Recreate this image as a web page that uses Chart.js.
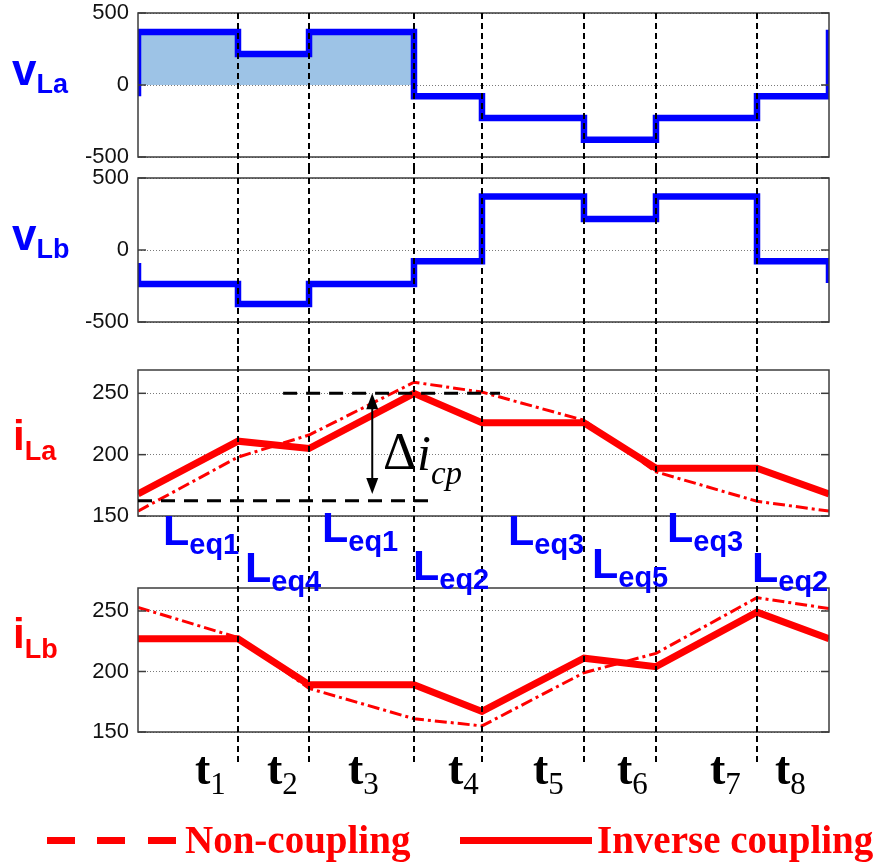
<!DOCTYPE html>
<html>
<head>
<meta charset="utf-8">
<script src="https://cdn.jsdelivr.net/npm/chart.js@4.4.0/dist/chart.umd.min.js"></script>
<style>
html, body { margin: 0; padding: 0; background: #fff; }
#wrap { position: relative; width: 884px; height: 867px; overflow: hidden; }
#wrap canvas { position: absolute; left: 0; }
.lbl { position: absolute; white-space: nowrap; line-height: 1; }
.leg { position: absolute; background: #ff0000; }
</style>
</head>
<body>
<div id="wrap"></div>
<script>
// switching instants over one period (percent of period)
const tEdges = [0, 14.47, 24.75, 39.94, 49.78, 64.54, 74.96, 89.58, 100];
const tNames = ['1', '2', '3', '4', '5', '6', '7', '8'];
const leqNames = ['eq1', 'eq4', 'eq1', 'eq2', 'eq3', 'eq5', 'eq3', 'eq2'];

// inductor voltages: level held in each interval, plus value before t=0 / at the end
const vLaLevels = [368, 215, 368, -78, -229, -380, -229, -78];
const vLbLevels = [-236, -375, -236, -78, 372, 215, 372, -78];
const vLaEnds = [-78, 383];
const vLbEnds = [-90, -229];

// inductor currents at the switching instants
const iLaInverse = [168, 211, 205, 250, 226, 226, 189, 189, 168];
const iLaNon     = [154, 198, 216, 259, 251, 228, 186, 162, 154];
const iLbInverse = [227, 227, 189, 189, 167, 211, 204, 249, 227];
const iLbNon     = [253, 228, 186, 161, 155, 199, 215, 261, 252];

const vTicks = [-500, 0, 500];
const iTicks = [150, 200, 250];

// delta i_cp marker on the iLa panel
const dIcpTop = 250, dIcpBottom = 162.5, dIcpArrowBottom = 168;
const dIcpTopSpan = [21, 52.4], dIcpBottomSpan = [0, 42.5], dIcpArrowX = 33.9;

const BLUE = '#0000ff', RED = '#ff0000';
const SANS = '"Liberation Sans", Arial, sans-serif';
const SERIF = '"Liberation Serif", "Times New Roman", serif';
const wrap = document.getElementById('wrap');

function stepPoints(levels, ends) {
    var pts = [{x: tEdges[0], y: ends[0]}];
    levels.forEach(function (v, i) {
        pts.push({x: tEdges[i], y: v});
        pts.push({x: tEdges[i + 1], y: v});
    });
    pts.push({x: tEdges[tEdges.length - 1], y: ends[1]});
    return pts;
}
function edgePoints(vals) {
    return vals.map(function (v, i) { return {x: tEdges[i], y: v}; });
}

function seg(ctx, x1, y1, x2, y2) {
    ctx.beginPath(); ctx.moveTo(x1, y1); ctx.lineTo(x2, y2); ctx.stroke();
}

const panelDeco = {
    id: 'panelDeco',
    afterDatasetsDraw(chart, args, opts) {
        const ctx = chart.ctx, a = chart.chartArea, x = chart.scales.x, y = chart.scales.y;
        ctx.save();
        // box + inward ticks
        ctx.strokeStyle = '#3c3c3c'; ctx.lineWidth = 1.5; ctx.setLineDash([]);
        ctx.strokeRect(a.left, a.top, a.right - a.left, a.bottom - a.top);
        opts.ticks.forEach(function (v) {
            const py = y.getPixelForValue(v);
            seg(ctx, a.left, py, a.left + 8, py);
            seg(ctx, a.right - 8, py, a.right, py);
        });
        // delta i marker
        if (opts.marker) {
            ctx.strokeStyle = '#000'; ctx.lineWidth = 3; ctx.setLineDash([14, 9]);
            const yt = y.getPixelForValue(dIcpTop), yb = y.getPixelForValue(dIcpBottom);
            seg(ctx, x.getPixelForValue(dIcpTopSpan[0]), yt, x.getPixelForValue(dIcpTopSpan[1]), yt);
            seg(ctx, x.getPixelForValue(dIcpBottomSpan[0]), yb, x.getPixelForValue(dIcpBottomSpan[1]), yb);
            ctx.setLineDash([]); ctx.lineWidth = 2;
            const ax = x.getPixelForValue(dIcpArrowX), ab = y.getPixelForValue(dIcpArrowBottom);
            seg(ctx, ax, yt + 12, ax, ab - 12);
            ctx.fillStyle = '#000';
            ctx.beginPath(); ctx.moveTo(ax, yt); ctx.lineTo(ax - 6, yt + 16); ctx.lineTo(ax + 6, yt + 16); ctx.closePath(); ctx.fill();
            ctx.beginPath(); ctx.moveTo(ax, ab); ctx.lineTo(ax - 6, ab - 16); ctx.lineTo(ax + 6, ab - 16); ctx.closePath(); ctx.fill();
        }
        // switching-instant dividers
        ctx.strokeStyle = '#000'; ctx.lineWidth = 2; ctx.setLineDash([6, 4]);
        const y0 = opts.fromPlot ? a.top : 0;
        const y1 = opts.dashTo;
        tEdges.slice(1, -1).forEach(function (t) {
            const px = Math.round(x.getPixelForValue(t));
            seg(ctx, px, y0, px, y1);
        });
        ctx.restore();
    }
};

function makeChart(p, datasets, yMin, yMax, ticks, deco) {
    const c = document.createElement('canvas');
    c.width = 884; c.height = p.height;
    c.style.top = p.top + 'px';
    c.style.width = '884px'; c.style.height = p.height + 'px';
    wrap.appendChild(c);
    return new Chart(c.getContext('2d'), {
        type: 'line',
        data: {datasets: datasets},
        options: {
            responsive: false, animation: false, events: [],
            layout: {padding: {left: 0, right: 55, top: p.plotTop - p.top, bottom: p.top + p.height - p.plotBottom}},
            elements: {point: {radius: 0}, line: {tension: 0}},
            plugins: {legend: {display: false}, tooltip: {enabled: false}, panelDeco: deco},
            scales: {
                x: {type: 'linear', min: 0, max: 100, display: false},
                y: {
                    type: 'linear', min: yMin, max: yMax,
                    afterBuildTicks: function (s) { s.ticks = ticks.map(function (v) { return {value: v}; }); },
                    afterFit: function (s) { s.width = 138; s.paddingTop = 0; s.paddingBottom = 0; },
                    grid: {color: '#7a7a7a', lineWidth: 1, drawTicks: false},
                    border: {display: false, dash: [1, 2]},
                    ticks: {color: '#111', padding: 9, font: {family: SANS, size: 22}}
                }
            }
        },
        plugins: [panelDeco]
    });
}

const panels = [
    {top: 0,   height: 168, plotTop: 13,  plotBottom: 157},
    {top: 168, height: 178, plotTop: 178, plotBottom: 322},
    {top: 346, height: 210, plotTop: 370, plotBottom: 516},
    {top: 556, height: 311, plotTop: 588, plotBottom: 732}
];

function voltSet(data, filled) {
    return {
        data: data, borderColor: BLUE, borderWidth: 6.5, borderJoinStyle: 'miter',
        fill: filled ? {target: {value: 0}, above: '#9dc3e6', below: 'rgba(0,0,0,0)'} : false
    };
}
function currSets(inv, non) {
    return [
        {data: edgePoints(non), borderColor: RED, borderWidth: 3, borderDash: [12, 4, 3, 4], fill: false},
        {data: edgePoints(inv), borderColor: RED, borderWidth: 7, fill: false}
    ];
}

makeChart(panels[0], [voltSet(stepPoints(vLaLevels, vLaEnds), true)], -500, 500, vTicks,
    {ticks: vTicks, fromPlot: true, dashTo: 168});
makeChart(panels[1], [voltSet(stepPoints(vLbLevels, vLbEnds), false)], -500, 500, vTicks,
    {ticks: vTicks, dashTo: 178});
makeChart(panels[2], currSets(iLaInverse, iLaNon), 150, 269, iTicks,
    {ticks: iTicks, dashTo: 210, marker: true});
makeChart(panels[3], currSets(iLbInverse, iLbNon), 150, 269, iTicks,
    {ticks: iTicks, dashTo: 209});

// ---- text labels ----
function addLabel(x, base, main, sub, o) {
    const d = document.createElement('div');
    d.className = 'lbl';
    d.style.left = x + 'px';
    d.style.top = (base - 0.845 * o.size) + 'px';
    d.style.fontFamily = o.family;
    d.style.fontSize = o.size + 'px';
    d.style.fontWeight = o.weight || 'bold';
    d.style.color = o.color;
    const m = document.createElement('span');
    m.textContent = main;
    if (o.italic) m.style.fontStyle = 'italic';
    d.appendChild(m);
    if (sub) {
        const s = document.createElement('span');
        s.textContent = sub;
        s.style.fontSize = o.subSize + 'px';
        s.style.position = 'relative';
        s.style.top = o.drop + 'px';
        if (o.subWeight) s.style.fontWeight = o.subWeight;
        if (o.subItalic) s.style.fontStyle = 'italic';
        d.appendChild(s);
    }
    wrap.appendChild(d);
}

const sideV = {family: SANS, size: 44, subSize: 27, drop: 8, color: BLUE};
const sideI = {family: SANS, size: 42, subSize: 27, drop: 10, color: RED};
addLabel(12, 85, 'v', 'La', sideV);
addLabel(12, 250, 'v', 'Lb', sideV);
addLabel(13, 450, 'i', 'La', sideI);
addLabel(13, 648, 'i', 'Lb', sideI);

const leqX = [163, 245, 322, 413, 508, 592, 667, 752];
const leqBase = [545, 582, 542, 580, 545, 578, 542, 582];
leqNames.forEach(function (s, i) {
    addLabel(leqX[i], leqBase[i], 'L', s, {family: SANS, size: 43, subSize: 29, drop: 9, color: BLUE});
});

const tX = [195, 267, 348, 448, 533, 617, 710, 775];
tNames.forEach(function (s, i) {
    addLabel(tX[i], 785, 't', s, {family: SERIF, size: 46, subSize: 31, subWeight: 'normal', drop: 10, color: '#000'});
});

addLabel(383, 470, 'Δ', null, {family: SERIF, size: 52, weight: 'normal', color: '#000'});
addLabel(417, 470, 'i', 'cp', {family: SERIF, size: 50, weight: 'normal', italic: true,
    subSize: 33, subItalic: true, drop: 14, color: '#000'});

// legend
function legBar(x, w) {
    const b = document.createElement('div');
    b.className = 'leg';
    b.style.left = x + 'px'; b.style.top = '837px';
    b.style.width = w + 'px'; b.style.height = '7px';
    wrap.appendChild(b);
}
legBar(47, 28); legBar(97, 28); legBar(148, 28);
addLabel(185, 853, 'Non-coupling', null, {family: SERIF, size: 39, color: RED});
legBar(460, 132);
addLabel(597, 853, 'Inverse coupling', null, {family: SERIF, size: 39, color: RED});
</script>
</body>
</html>
